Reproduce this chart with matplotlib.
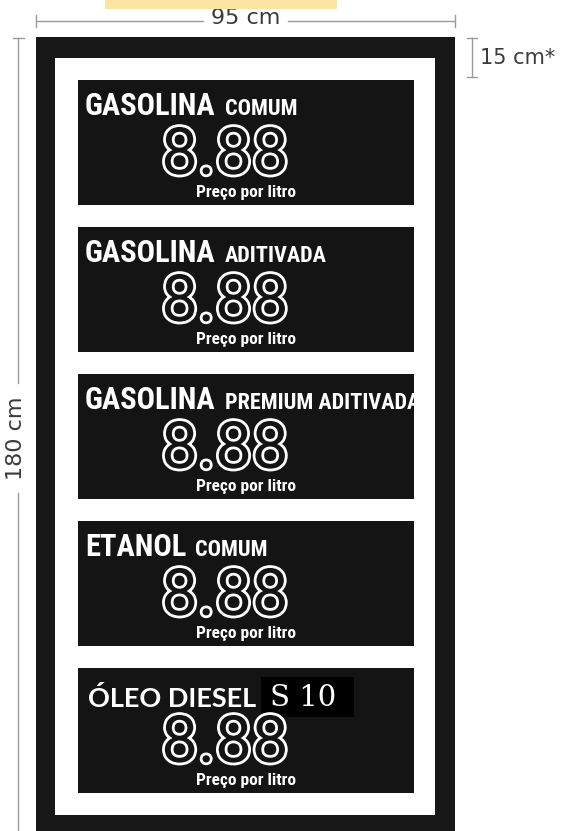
import matplotlib
matplotlib.use("Agg")
import matplotlib.pyplot as plt
import matplotlib.patheffects as pe
from matplotlib import font_manager
from matplotlib.patches import Rectangle

# sign content
products = ["GASOLINA", "GASOLINA", "GASOLINA", "ETANOL", "ÓLEO DIESEL"]
grades = ["COMUM", "ADITIVADA", "PREMIUM ADITIVADA", "COMUM", "S 10"]
prices = ["8.88", "8.88", "8.88", "8.88", "8.88"]
unit_label = "Preço por litro"

# dimensions printed around the sign
width_label = "95 cm"
height_label = "180 cm"
depth_label = "15 cm*"

# layout in pixels (figure is 567 x 831)
W, H = 567, 831
frame_x0, frame_x1, frame_y0 = 36, 455, 37
inner_x0, inner_x1, inner_y0, inner_y1 = 55, 435, 58, 815
panel_x0, panel_x1 = 78, 414
panel_top0, panel_step, panel_h = 80, 147, 125

FRAME = "#171717"
PANEL = "#141414"
DIM = "#9a9a9a"
DIMTXT = "#3a3a3a"

available = {f.name for f in font_manager.fontManager.ttflist}
narrow = next((n for n in ["Liberation Sans Narrow", "DejaVu Sans Condensed",
                           "Roboto Condensed", "Open Sans Condensed"]
               if n in available), "DejaVu Sans")
diesel_font = "Lato" if "Lato" in available else "DejaVu Sans"
digit_font = "Roboto" if "Roboto" in available else "DejaVu Sans"

fig = plt.figure(figsize=(W / 100, H / 100), dpi=100)
ax = fig.add_axes([0, 0, 1, 1])
ax.set_xlim(0, W)
ax.set_ylim(H, 0)
ax.axis("off")

renderer = fig.canvas.get_renderer()
to_data = ax.transData.inverted()


def extent(t):
    bb = t.get_window_extent(renderer)
    (x0, y0), (x1, y1) = to_data.transform([(bb.x0, bb.y0), (bb.x1, bb.y1)])
    return min(x0, x1), max(x0, x1), min(y0, y1), max(y0, y1)


# faint watermark smear at the very top
ax.add_patch(Rectangle((105, 0), 232, 9, color="#fbe4a4", lw=0, zorder=4))

# frame
ax.add_patch(Rectangle((frame_x0, frame_y0), frame_x1 - frame_x0, H - frame_y0 + 5,
                       color=FRAME, lw=0))
ax.add_patch(Rectangle((inner_x0, inner_y0), inner_x1 - inner_x0, inner_y1 - inner_y0,
                       color="white", lw=0))

for i, (prod, grade, price) in enumerate(zip(products, grades, prices)):
    top = panel_top0 + i * panel_step
    panel = ax.add_patch(Rectangle((panel_x0, top), panel_x1 - panel_x0, panel_h,
                                   color=PANEL, lw=0))
    if prod.startswith("ÓLEO"):
        t = ax.text(panel_x0 + 10, top + 39, prod, color="white", family=diesel_font,
                    fontsize=19.5, fontweight="bold", va="baseline", ha="left")
        x_end = extent(t)[1]
        ax.add_patch(Rectangle((x_end + 5, top + 9), 93, 40, color="black", lw=0))
        ax.text(x_end + 5 + 42, top + 30, grade, color="white", family="DejaVu Serif",
                fontsize=21, va="center", ha="center")
    else:
        t = ax.text(panel_x0 + 7, top + 35, prod, color="white", family=narrow,
                    fontsize=22, fontweight="bold", va="baseline", ha="left",
                    fontstretch="condensed")
        x_end = extent(t)[1]
        g = ax.text(x_end + 9, top + 35, grade, color="white", family=narrow,
                    fontsize=16, fontweight="bold", va="baseline", ha="left",
                    fontstretch="condensed")
        g.set_clip_path(panel)

    ax.text(225, top + 94, price, color=PANEL, family=digit_font, fontsize=47,
            va="baseline", ha="center",
            path_effects=[pe.withStroke(linewidth=4, foreground="white")])
    ax.text(246, top + 117, unit_label, color="white", family=narrow, fontsize=12.5,
            fontweight="bold", va="baseline", ha="center", fontstretch="condensed")

# width dimension
wt = ax.text((frame_x0 + frame_x1) / 2, 18, width_label, color=DIMTXT, fontsize=16,
             ha="center", va="center")
wx0, wx1, _, _ = extent(wt)
ax.plot([frame_x0, wx0 - 8], [21, 21], color=DIM, lw=1)
ax.plot([wx1 + 8, frame_x1], [21, 21], color=DIM, lw=1)
ax.plot([frame_x0, frame_x0], [15, 27], color=DIM, lw=1)
ax.plot([frame_x1, frame_x1], [15, 27], color=DIM, lw=1)

# height dimension
ht = ax.text(16, 438, height_label, color=DIMTXT, fontsize=16, rotation=90,
             ha="center", va="center")
_, _, hy0, hy1 = extent(ht)
ax.plot([18, 18], [38, hy0 - 13], color=DIM, lw=1)
ax.plot([18, 18], [hy1 + 13, H], color=DIM, lw=1)
ax.plot([13, 24], [38, 38], color=DIM, lw=1)

# depth bracket
ax.plot([472, 472], [38, 77], color=DIM, lw=1)
ax.plot([467, 477], [38, 38], color=DIM, lw=1)
ax.plot([467, 477], [77, 77], color=DIM, lw=1)
ax.text(480, 58, depth_label, color=DIMTXT, fontsize=15, ha="left", va="center")

fig.savefig("out.png", dpi=100)
